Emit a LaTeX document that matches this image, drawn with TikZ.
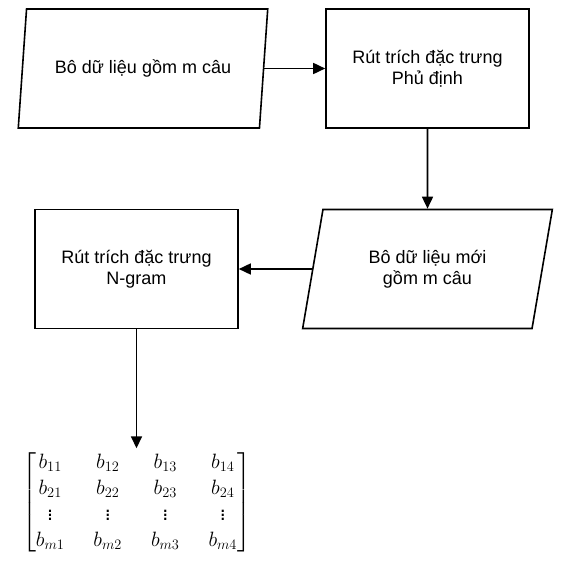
\documentclass[tikz,border=0pt]{standalone}
\usepackage{fontspec}
\setmainfont{Liberation Sans}
\usepackage{amsmath}
\usetikzlibrary{positioning,shapes.geometric,arrows.meta}
\tikzset{data node/.style={trapezium,trapezium left angle=75,trapezium right angle=105,trapezium stretches=true,draw,line width=1.6pt,minimum width=250pt,minimum height=119pt,align=center,font=\fontsize{18}{21.5}\selectfont},
  step node/.style={rectangle,draw,line width=1.6pt,minimum width=203pt,minimum height=119pt,align=center,font=\fontsize{18}{21.5}\selectfont},
  flow/.style={draw,line width=1.6pt,-{Triangle[length=12pt,width=11pt]}},}

\begin{document}
\begin{tikzpicture}
    \path[use as bounding box] (0,0) rectangle (566pt,-578pt);
    \node[data node] (data) at (143pt,-68.5pt) {Bô dữ liệu gồm m câu};
    \node[step node] (neg) [on grid,right = 284.5pt of data] {Rút trích đặc trưng\\Phủ định};
    \node[data node] (newdata) [on grid,below = 200.5pt of neg] {Bô dữ liệu mới\\gồm m câu};
    \node[step node] (ngram) [on grid,left = 291pt of newdata] {Rút trích đặc trưng\\N-gram};
    \node[inner sep=2pt,font=\fontsize{21.5}{26}\selectfont] (mat) [below = 119pt of ngram]
    {\setlength{\arraycolsep}{14.5pt}$\begin{bmatrix}
        b_{11} & b_{12} & b_{13} & b_{14}\\
        b_{21} & b_{22} & b_{23} & b_{24}\\
        \vdots & \vdots & \vdots & \vdots\\
        b_{m1} & b_{m2} & b_{m3} & b_{m4}
    \end{bmatrix}$};

    \path[flow] (data) -- (neg);
    \path[flow] (neg) -- (newdata);
    \path[flow] (newdata) -- (ngram);
    \path[flow] (ngram) -- (mat);
\end{tikzpicture}
\end{document}
